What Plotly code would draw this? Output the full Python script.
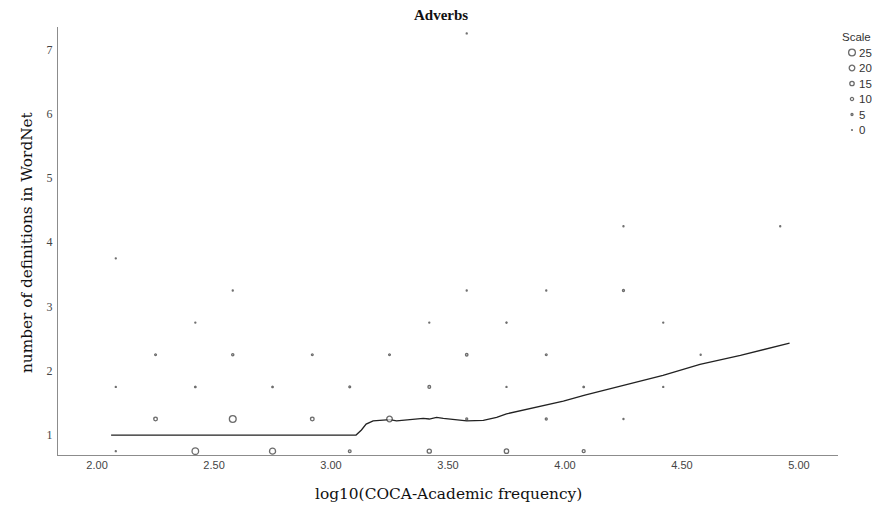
import plotly.graph_objects as go

# ---- data ----
freq_log10 = [2.08, 2.08, 2.08,
              2.25, 2.25,
              2.42, 2.42, 2.42,
              2.58, 2.58, 2.58,
              2.75, 2.75,
              2.92, 2.92,
              3.08, 3.08,
              3.25, 3.25,
              3.42, 3.42, 3.42,
              3.58, 3.58, 3.58, 3.58,
              3.75, 3.75, 3.75,
              3.92, 3.92, 3.92,
              4.08, 4.08,
              4.25, 4.25, 4.25,
              4.42, 4.42,
              4.58,
              4.92]
n_definitions = [0.75, 1.75, 3.75,
                 1.25, 2.25,
                 0.75, 1.75, 2.75,
                 1.25, 2.25, 3.25,
                 0.75, 1.75,
                 1.25, 2.25,
                 0.75, 1.75,
                 1.25, 2.25,
                 0.75, 1.75, 2.75,
                 1.25, 2.25, 3.25, 7.25,
                 0.75, 1.75, 2.75,
                 1.25, 2.25, 3.25,
                 0.75, 1.75,
                 1.25, 3.25, 4.25,
                 1.75, 2.75,
                 2.25,
                 4.25]
n_words = [1, 1, 1,
           12, 4,
           24, 3, 1,
           25, 6, 1,
           22, 3,
           12, 4,
           8, 4,
           20, 4,
           14, 8, 1,
           5, 7, 1, 1,
           15, 1, 2,
           5, 4, 1,
           9, 3,
           1, 5, 1,
           1, 1,
           1,
           1]

loess_x = [2.06, 2.50, 3.00, 3.107, 3.13, 3.15, 3.18, 3.21, 3.252, 3.28, 3.309,
           3.35, 3.394, 3.42, 3.451, 3.48, 3.509, 3.55, 3.58, 3.651, 3.708, 3.75,
           3.879, 3.993, 4.085, 4.249, 4.419, 4.577, 4.75, 4.96]
loess_y = [1.0, 1.0, 1.0, 1.0, 1.08, 1.17, 1.22, 1.23, 1.24, 1.22, 1.23,
           1.24, 1.26, 1.25, 1.275, 1.26, 1.25, 1.23, 1.22, 1.23, 1.275, 1.33,
           1.43, 1.53, 1.62, 1.77, 1.93, 2.10, 2.24, 2.43]

legend_counts = [25, 20, 15, 10, 5, 0]
x_ticks = [2.0, 2.5, 3.0, 3.5, 4.0, 4.5, 5.0]
y_ticks = [1, 2, 3, 4, 5, 6, 7]

title_text = "Adverbs"
x_title = "log10(COCA-Academic frequency)"
y_title = "number of definitions in WordNet"
legend_title = "Scale"

# ---- style ----
def marker_size(c):
    return 0.8 + 0.24 * c

ring = dict(color="white", line=dict(color="#2e2e2e", width=1.3))
W, H = 872, 510
ML, MT, MB = 58, 27, 55
PLOT_RIGHT = 838
plot_w = W - ML
plot_h = H - MT - MB
main_frac = (PLOT_RIGHT - ML) / plot_w

def px_x(p):
    return (p - ML) / plot_w

def px_y(p):
    return (H - MB - p) / plot_h

fig = go.Figure()

fig.add_trace(go.Scatter(
    x=loess_x, y=loess_y, mode="lines",
    line=dict(color="#222222", width=1.3), hoverinfo="skip",
    xaxis="x", yaxis="y"))

fig.add_trace(go.Scatter(
    x=freq_log10, y=n_definitions, mode="markers",
    marker=dict(size=[marker_size(c) for c in n_words], symbol="circle", **ring),
    xaxis="x", yaxis="y"))

# size key drawn on a pixel-scaled helper axis in the right strip
leg_x = 852
leg_y0, leg_dy = 52.5, 15.5
leg_ys = [leg_y0 + i * leg_dy for i in range(len(legend_counts))]
fig.add_trace(go.Scatter(
    x=[leg_x] * len(legend_counts), y=leg_ys, mode="markers",
    marker=dict(size=[marker_size(c) for c in legend_counts], symbol="circle", **ring),
    xaxis="x2", yaxis="y2", hoverinfo="skip"))

leg_font = dict(family="Liberation Sans", size=11.5, color="#333333")
annotations = []
for yy, c in zip(leg_ys, legend_counts):
    annotations.append(dict(x=856.5, y=yy, xref="x2", yref="y2", text=str(c),
                            showarrow=False, xanchor="left", yanchor="middle",
                            font=leg_font))
annotations.append(dict(x=839.5, y=37, xref="x2", yref="y2", text=legend_title,
                        showarrow=False, xanchor="left", yanchor="middle",
                        font=leg_font))
annotations.append(dict(x=px_x(441), y=px_y(15), xref="paper", yref="paper",
                        text="<b>" + title_text + "</b>", showarrow=False,
                        xanchor="center", yanchor="middle",
                        font=dict(family="Liberation Serif", size=15, color="#111")))
annotations.append(dict(x=px_x(448), y=px_y(494), xref="paper", yref="paper",
                        text=x_title, showarrow=False, xanchor="center", yanchor="middle",
                        font=dict(family="DejaVu Serif", size=15.4, color="#111")))
annotations.append(dict(x=px_x(27), y=px_y(242), xref="paper", yref="paper",
                        text=y_title, showarrow=False, textangle=-90,
                        xanchor="center", yanchor="middle",
                        font=dict(family="DejaVu Serif", size=15.3, color="#111")))

fig.update_layout(
    width=W, height=H,
    margin=dict(l=ML, r=0, t=MT, b=MB, pad=0),
    plot_bgcolor="white", paper_bgcolor="white",
    showlegend=False,
    annotations=annotations,
    xaxis=dict(domain=[0, main_frac], range=[1.833, 5.167],
               tickvals=x_ticks, ticktext=[f"{v:.2f}" for v in x_ticks],
               showgrid=False, zeroline=False, showline=True,
               linecolor="#8c8c8c", linewidth=1, ticks="",
               ticklabelstandoff=0,
               tickfont=dict(family="Liberation Sans", size=11, color="#444"),
               anchor="y"),
    yaxis=dict(domain=[0, 1], range=[0.69, 7.35], tickvals=y_ticks,
               showgrid=False, zeroline=False, showline=True,
               linecolor="#8c8c8c", linewidth=1, ticks="",
               ticklabelstandoff=2,
               tickfont=dict(family="Liberation Serif", size=12, color="#444"),
               anchor="x"),
    xaxis2=dict(domain=[main_frac, 1], range=[PLOT_RIGHT, W], visible=False,
                anchor="y2", fixedrange=True),
    yaxis2=dict(domain=[0, 1], range=[H - MB, MT], visible=False,
                anchor="x2", fixedrange=True),
)

fig.write_html("out.html",
               config={"displayModeBar": False},
               post_script="document.body.style.margin='0';document.body.style.overflow='hidden';")
